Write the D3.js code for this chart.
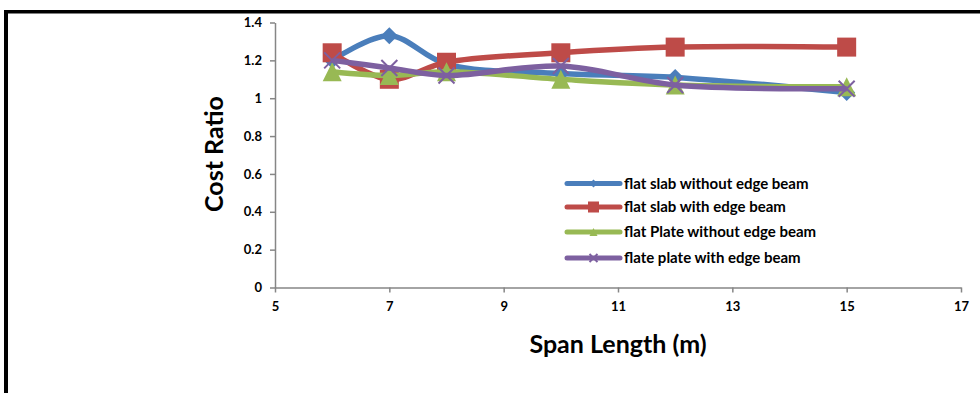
<!DOCTYPE html>
<html>
<head>
<meta charset="utf-8">
<script src="https://cdn.jsdelivr.net/npm/d3@7"></script>
<style>
  html, body { margin: 0; padding: 0; background: #fff; }
  svg { display: block; }
  text { font-family: Lato, "Open Sans", "Liberation Sans", sans-serif; font-weight: bold; fill: #000; }
</style>
</head>
<body>
<svg id="chart" width="980" height="393"></svg>
<script>
// Span lengths (m) at which each system was costed
const spans = [6, 7, 8, 10, 12, 15];

// Cost ratio for each structural system
const flatSlabNoEdge   = [1.20, 1.33, 1.18, 1.13, 1.11, 1.03];
const flatSlabEdge     = [1.24, 1.10, 1.19, 1.24, 1.27, 1.27];
const flatPlateNoEdge  = [1.14, 1.12, 1.14, 1.10, 1.07, 1.06];
const flatPlateEdge    = [1.20, 1.16, 1.12, 1.17, 1.07, 1.05];

const seriesNames = [
  "flat slab without edge beam",
  "flat slab with edge beam",
  "flat Plate without edge beam",
  "flate plate with edge beam"
];
const seriesColors = ["#4a7ebb", "#be4b48", "#98b954", "#7d60a0"];
const seriesMarkers = ["diamond", "square", "triangle", "cross"];

const xTicks = [5, 7, 9, 11, 13, 15, 17];
const yTicks = [0, 0.2, 0.4, 0.6, 0.8, 1, 1.2, 1.4];

const series = [flatSlabNoEdge, flatSlabEdge, flatPlateNoEdge, flatPlateEdge].map((vals, i) => ({
  name: seriesNames[i],
  color: seriesColors[i],
  marker: seriesMarkers[i],
  points: spans.map((s, j) => ({ x: s, y: vals[j] }))
}));

const svg = d3.select("#chart");

// Outer frame (top and left edges)
svg.append("rect").attr("x", 4).attr("y", 10).attr("width", 976).attr("height", 3.5).attr("fill", "#000");
svg.append("rect").attr("x", 4).attr("y", 10).attr("width", 4).attr("height", 383).attr("fill", "#000");

const x = d3.scaleLinear().domain([5, 17]).range([275, 961]);
const y = d3.scaleLinear().domain([0, 1.4]).range([287.5, 22.5]);

const axisColor = "#868686";

// Y axis
const yAxis = svg.append("g")
  .attr("transform", `translate(${x(5)},0)`)
  .call(d3.axisLeft(y).tickValues(yTicks).tickSize(5).tickSizeOuter(0).tickPadding(8)
    .tickFormat(d => d3.format("~g")(d)));
yAxis.select(".domain").attr("stroke", axisColor).attr("stroke-width", 1.5);
yAxis.selectAll(".tick line").attr("stroke", axisColor).attr("stroke-width", 1.5);
yAxis.selectAll(".tick text").style("font-size", "13px").attr("fill", "#000");

// X axis
const xAxis = svg.append("g")
  .attr("transform", `translate(0,${y(0)})`)
  .call(d3.axisBottom(x).tickValues(xTicks).tickSize(5).tickSizeOuter(0).tickPadding(9));
xAxis.select(".domain").attr("stroke", axisColor).attr("stroke-width", 1.5);
xAxis.selectAll(".tick line").attr("stroke", axisColor).attr("stroke-width", 1.5);
xAxis.selectAll(".tick text").style("font-size", "13px").attr("fill", "#000");

// Axis titles
svg.append("text")
  .attr("x", 618).attr("y", 353)
  .attr("text-anchor", "middle")
  .style("font-size", "25px")
  .text("Span Length (m)");

svg.append("text")
  .attr("transform", "translate(223,154) rotate(-90)")
  .attr("text-anchor", "middle")
  .style("font-size", "25px")
  .text("Cost Ratio");

// Smoothed series lines
const line = d3.line()
  .x(d => x(d.x))
  .y(d => y(d.y))
  .curve(d3.curveCatmullRom.alpha(0.5));

function drawMarker(g, type, color, size) {
  const h = size / 2;
  if (type === "diamond") {
    g.append("path").attr("d", `M0,${-h}L${h},0L0,${h}L${-h},0Z`).attr("fill", color);
  } else if (type === "square") {
    g.append("rect").attr("x", -h).attr("y", -h).attr("width", size).attr("height", size).attr("fill", color);
  } else if (type === "triangle") {
    g.append("path").attr("d", `M0,${-h}L${h},${h}L${-h},${h}Z`).attr("fill", color);
  } else if (type === "cross") {
    g.append("path").attr("d", `M${-h},${-h}L${h},${h}M${h},${-h}L${-h},${h}`)
      .attr("stroke", color).attr("stroke-width", 2).attr("fill", "none");
  }
}

series.forEach(s => {
  svg.append("path")
    .datum(s.points)
    .attr("d", line)
    .attr("fill", "none")
    .attr("stroke", s.color)
    .attr("stroke-width", 5.5)
    .attr("stroke-linejoin", "round");

  s.points.forEach(p => {
    const g = svg.append("g").attr("transform", `translate(${x(p.x)},${y(p.y)})`);
    drawMarker(g, s.marker, s.color, s.marker === "diamond" ? 17 : (s.marker === "cross" ? 16 : 19));
  });
});

// Legend
const legendRows = [183.5, 207, 232, 258];
series.forEach((s, i) => {
  const ly = legendRows[i];
  svg.append("line")
    .attr("x1", 567).attr("x2", 620).attr("y1", ly).attr("y2", ly)
    .attr("stroke", s.color).attr("stroke-width", 5).attr("stroke-linecap", "round");
  const g = svg.append("g").attr("transform", `translate(593.5,${ly})`);
  drawMarker(g, s.marker, s.color, s.marker === "square" ? 11 : 8);
  svg.append("text")
    .attr("x", 624).attr("y", ly)
    .attr("dy", "0.35em")
    .style("font-size", "15px")
    .text(s.name);
});
</script>
</body>
</html>
